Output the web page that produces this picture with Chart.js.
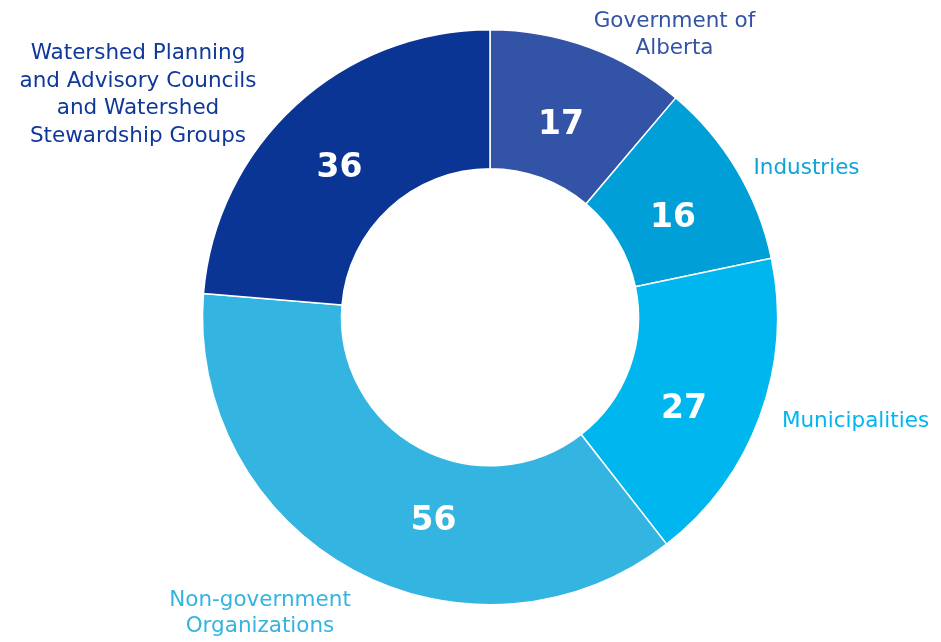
<!DOCTYPE html>
<html>
<head>
<meta charset="utf-8">
<script src="https://cdn.jsdelivr.net/npm/chart.js@4.4.0/dist/chart.umd.min.js"></script>
<style>
  html, body { margin: 0; padding: 0; background: #ffffff; }
  #wrap { width: 941px; height: 642px; position: relative; }
</style>
</head>
<body>
<div id="wrap"><canvas id="c" width="941" height="642"></canvas></div>
<script>
// ---- data ----
const categories = [
  ["Government of", "Alberta"],
  ["Industries"],
  ["Municipalities"],
  ["Non-government", "Organizations"],
  ["Watershed Planning", "and Advisory Councils", "and Watershed", "Stewardship Groups"]
];
const values = [17, 16, 27, 56, 36];

// ---- styles / layout (not data) ----
const colors = ["#3353A7", "#009FD7", "#00B6EF", "#33B4E1", "#0A3595"];
const labelColors = ["#3353A7", "#0FA3DA", "#00B6EF", "#33B4E1", "#0F389A"];
// number labels: angle (deg clockwise from top) and radius from centre
const numberPlacement = [[20.0, 207.5], [60.9, 209.5], [114.6, 213.4], [195.7, 208.8], [315.3, 213.9]];
// outer labels: centre offset from doughnut centre of first line, line spacing
const outerPlacement = [[184.5, -298.5, 27], [316.5, -151, 27], [365.5, 102, 27], [-230, 280.7, 26], [-352, -266, 27.7]];

const labelPlugin = {
  id: 'labels',
  afterDraw(chart) {
    const ctx = chart.ctx;
    const arc = chart.getDatasetMeta(0).data[0];
    const cx = arc.x, cy = arc.y;
    ctx.save();
    ctx.textAlign = 'center';
    ctx.textBaseline = 'alphabetic';
    // numbers
    const nSize = 33;
    ctx.font = 'bold ' + nSize + 'px "DejaVu Sans"';
    ctx.fillStyle = '#ffffff';
    values.forEach((v, i) => {
      const [a, r] = numberPlacement[i];
      const rad = a * Math.PI / 180;
      const x = cx + r * Math.sin(rad);
      const y = cy - r * Math.cos(rad);
      ctx.fillText(String(v), x, y + nSize * 0.729 / 2);
    });
    // outer labels
    const lSize = 21.5;
    ctx.font = lSize + 'px "DejaVu Sans"';
    categories.forEach((lines, i) => {
      const [dx, dy, lh] = outerPlacement[i];
      ctx.fillStyle = labelColors[i];
      lines.forEach((t, j) => {
        ctx.fillText(t, cx + dx, cy + dy + j * lh + lSize * 0.729 / 2);
      });
    });
    ctx.restore();
  }
};

new Chart(document.getElementById('c'), {
  type: 'doughnut',
  data: {
    labels: categories.map(l => l.join(' ')),
    datasets: [{
      data: values,
      backgroundColor: colors,
      borderColor: '#ffffff',
      borderWidth: 1.5,
      hoverOffset: 0
    }]
  },
  options: {
    responsive: false,
    animation: false,
    cutout: 148.5,
    rotation: 0,
    layout: { padding: { top: 29, bottom: 36.5, left: 39, right: 0 } },
    plugins: {
      legend: { display: false },
      tooltip: { enabled: false }
    }
  },
  plugins: [labelPlugin]
});
</script>
</body>
</html>
